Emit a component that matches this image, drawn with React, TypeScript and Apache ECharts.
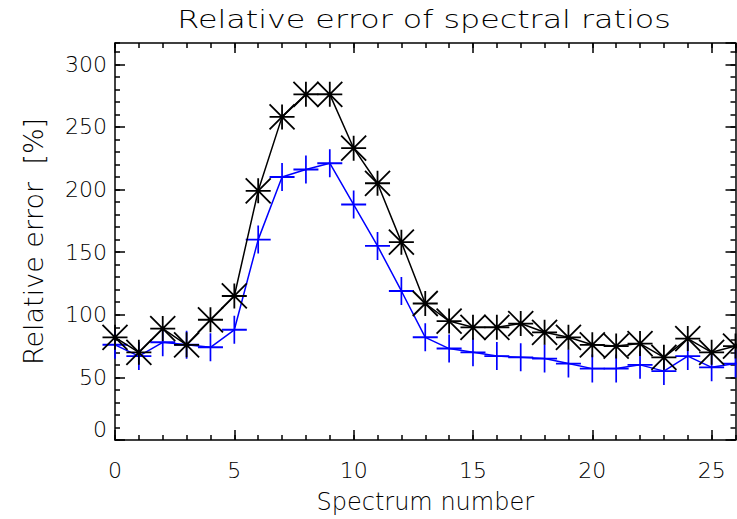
import React, { useEffect, useRef } from "react";
import * as echarts from "echarts";

const spectrumNumbers = [0,1,2,3,4,5,6,7,8,9,10,11,12,13,14,15,16,17,18,19,20,21,22,23,24,25,26];
const blackValues = [82,70,89,76,96,115,199,258,276,276,233,205,158,109,95,90,90,93,86,82,76,75,77,66,81,70,75];
const blueValues = [76,67,78,76,74,88,160,210,216,221,188,155,119,82,73,70,67,66,65,61,57,57,60,55,67,58,61];
const yTickLabels = ["0","50","100","150","200","250","300"];

const titleText = "Relative error of spectral ratios";
const xName = "Spectrum number";
const yName = "Relative error  [%]";

const FONT = "DejaVu Sans";

export default function App() {
  const ref = useRef<HTMLDivElement>(null);
  useEffect(() => {
    if (!ref.current) return;
    const chart = echarts.init(ref.current, undefined, { renderer: "svg" });
    const labelStyle = { color: "#000", fontFamily: FONT, fontWeight: 200 as any, fontSize: 22 };
    const lineStyle = { color: "#000", width: 1.5 };
    const majorX = (pos: "bottom" | "top", labels: boolean) => ({
      type: "value", position: pos, min: 0, max: 26, interval: 5,
      axisLine: { show: true, onZero: false, lineStyle },
      axisTick: { show: true, inside: true, length: 10, lineStyle },
      axisLabel: { show: labels, ...labelStyle, margin: 19, showMaxLabel: false,
        formatter: (v: number) => (v % 5 === 0 ? String(v) : "") },
      splitLine: { show: false },
      ...(labels ? { name: xName, nameLocation: "middle", nameGap: 50,
        nameTextStyle: { ...labelStyle, fontSize: 24 } } : {}),
    });
    const minorX = (pos: "bottom" | "top") => ({
      type: "value", position: pos, min: 0, max: 26, interval: 1,
      axisLine: { show: false, onZero: false },
      axisTick: { show: true, inside: true, length: 5, lineStyle },
      axisLabel: { show: false }, splitLine: { show: false },
    });
    const majorY = (pos: "left" | "right", labels: boolean) => ({
      type: "value", position: pos, min: 0, max: 317, interval: 50,
      axisLine: { show: true, onZero: false, lineStyle },
      axisTick: { show: true, inside: true, length: 10, lineStyle },
      axisLabel: { show: labels, ...labelStyle, margin: 8, showMaxLabel: false,
        verticalAlignMinLabel: "bottom",
        formatter: (v: number) => (v % 50 === 0 ? yTickLabels[v / 50] : "") },
      splitLine: { show: false },
      ...(labels ? { name: yName, nameLocation: "middle", nameGap: 68, nameRotate: 90,
        nameTextStyle: { ...labelStyle, fontSize: 27 } } : {}),
    });
    const minorY = (pos: "left" | "right") => ({
      type: "value", position: pos, min: 0, max: 317, interval: 10,
      axisLine: { show: false, onZero: false },
      axisTick: { show: true, inside: true, length: 5, lineStyle },
      axisLabel: { show: false }, splitLine: { show: false },
    });
    const starPath = "path://M12 0V24M0 12H24M0 0L24 24M0 24L24 0";
    const plusPath = "path://M12 0V24M0 12H24";
    chart.setOption({
      animation: false,
      backgroundColor: "#fff",
      grid: { left: 115, right: 1.5, top: 43, bottom: 76, containLabel: false },
      graphic: [{
        type: "text", x: 424, y: 19, scaleX: 1.27,
        style: { text: titleText, fill: "#000", font: `200 25px "${FONT}"`, align: "center", verticalAlign: "middle" },
      }],
      xAxis: [majorX("bottom", true), minorX("bottom"), majorX("top", false), minorX("top")],
      yAxis: [majorY("left", true), minorY("left"), majorY("right", false), minorY("right")],
      series: [
        {
          type: "line", xAxisIndex: 0, yAxisIndex: 0,
          data: spectrumNumbers.map((x, i) => [x, blueValues[i]]),
          symbol: plusPath, symbolSize: [25, 28],
          lineStyle: { color: "#0000ff", width: 1.5 },
          itemStyle: { color: "#0000ff", borderColor: "#0000ff", borderWidth: 1.8 },
          z: 2,
        },
        {
          type: "line", xAxisIndex: 0, yAxisIndex: 0,
          data: spectrumNumbers.map((x, i) => [x, blackValues[i]]),
          symbol: starPath, symbolSize: 25,
          lineStyle: { color: "#000", width: 1.5 },
          itemStyle: { color: "#000", borderColor: "#000", borderWidth: 1.8 },
          z: 3,
        },
      ],
    });
    return () => chart.dispose();
  }, []);
  return (
    <div ref={ref} style={{ position: "fixed", left: 0, top: 0, width: 737, height: 519, background: "#fff" }} />
  );
}
